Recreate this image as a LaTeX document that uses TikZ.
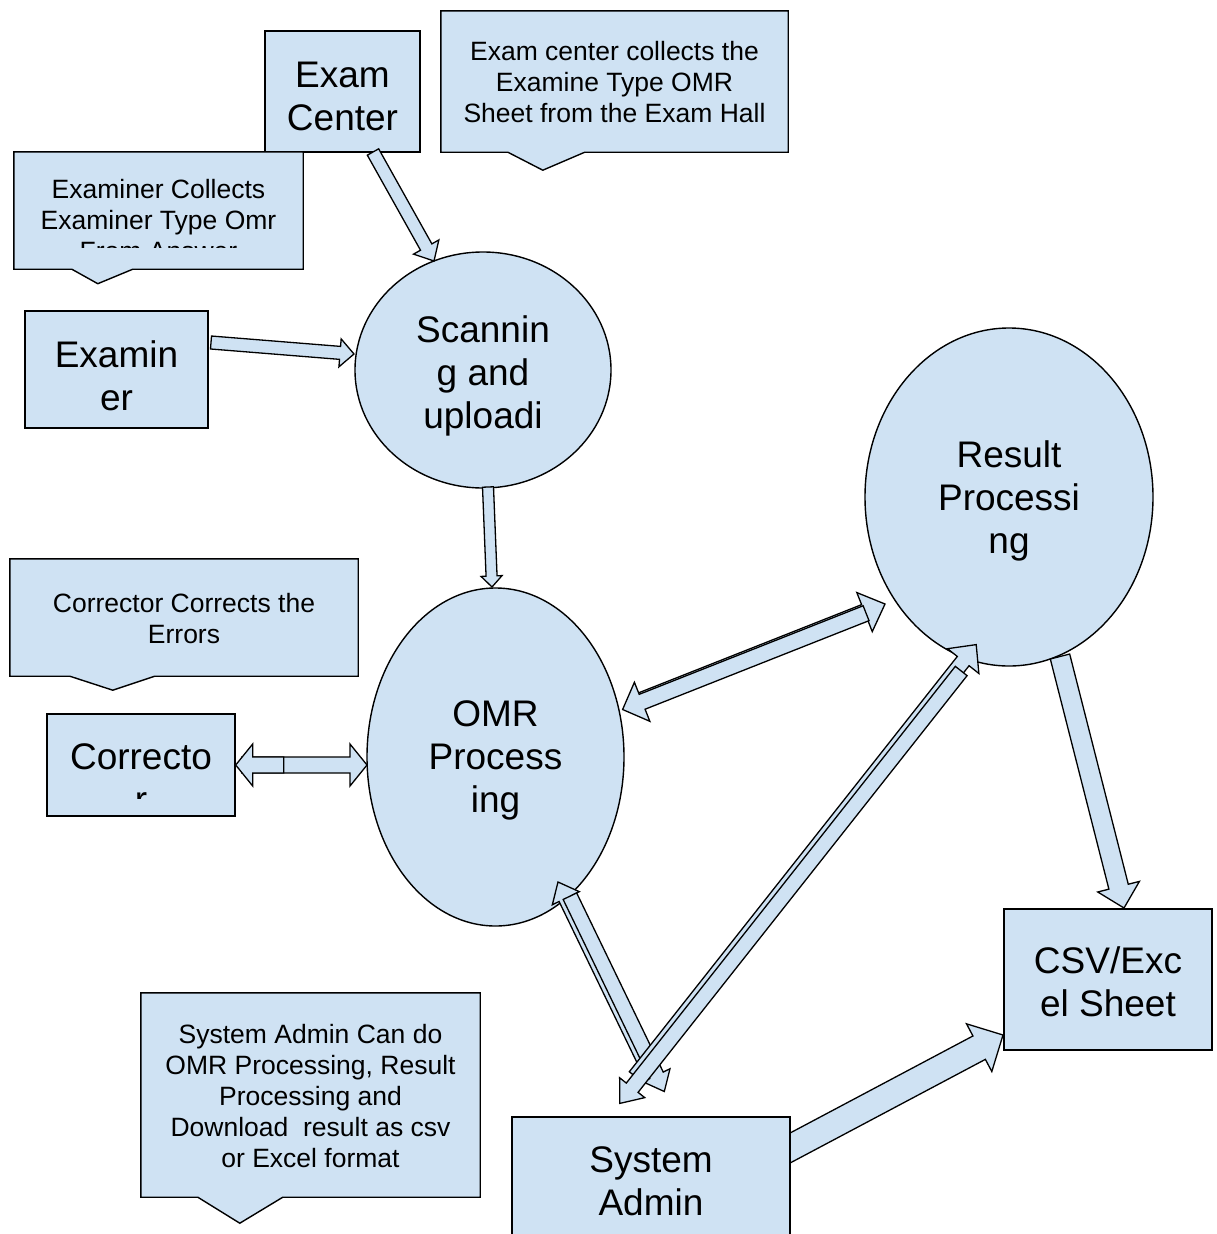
\documentclass[tikz,border=0pt]{standalone}
\usepackage{fontspec}
\setmainfont{Liberation Sans}
\usetikzlibrary{calc,shapes.geometric,backgrounds}
\definecolor{boxfill}{HTML}{CFE2F3}

\tikzset{
  shapebase/.style={draw=black, fill=boxfill, line width=1.4pt, inner sep=0pt},
  boxnode/.style={shapebase, rectangle},
  ellnode/.style={shapebase, ellipse},
  areanode/.style={rectangle, inner sep=0pt},
  calloutshape/.style={draw=black, fill=boxfill, line width=1.4pt, line join=miter},
  arrowbody/.style={draw=black, fill=boxfill, line width=1.3pt, line join=miter},
  bigtxt/.style={anchor=north, align=center, inner sep=0pt, font=\fontsize{37}{43}\selectfont},
  smalltxt/.style={anchor=north, align=center, inner sep=0pt, font=\fontsize{26.5}{31}\selectfont},
}

% block arrow: #2 tail, #3 tip, #4 half shaft width, #5 half head width, #6 head length
\newcommand\blkarrow[6][]{%
  \path ($(#3)!#6!(#2)$) coordinate (ja);
  \draw[arrowbody,#1] ($(#2)!#4!90:(#3)$) -- ($(ja)!#4!90:(#3)$) -- ($(ja)!#5!90:(#3)$) -- (#3)
    -- ($(ja)!#5!-90:(#3)$) -- ($(ja)!#4!-90:(#3)$) -- ($(#2)!#4!-90:(#3)$) -- cycle;
}

\begin{document}
\begin{tikzpicture}[x=1pt,y=-1pt]
\useasboundingbox (0,0) rectangle (1216,1234);

% ---------- callouts ----------
\node[areanode, minimum width=347pt, minimum height=141pt] (c1) at (614.5,81.5) {};
\draw[calloutshape] (c1.north west) -- (c1.north east) -- (c1.south east)
  -- ($(c1.south west)+(144,0)$) -- ($(c1.south west)+(102,18)$) -- ($(c1.south west)+(67,0)$)
  -- (c1.south west) -- cycle;
\node[smalltxt] (c1-t) at (614.5,41.5) {Exam center collects the\\Examine Type OMR\\Sheet from the Exam Hall};

\node[boxnode, minimum width=155pt, minimum height=121pt] (ec) at (342.5,91.5) {};
\node[bigtxt] (ec-t) at (342.5,61.75) {Exam\\Center};

\node[areanode, minimum width=289pt, minimum height=117pt] (c2) at (158.5,210.5) {};
\draw[calloutshape] (c2.north west) -- (c2.north east) -- (c2.south east)
  -- ($(c2.south west)+(119,0)$) -- ($(c2.south west)+(84,14.5)$) -- ($(c2.south west)+(58,0)$)
  -- (c2.south west) -- cycle;
\begin{scope}
  \clip (c2.north west) rectangle ($(c2.north east)+(0,96)$);
  \node[smalltxt] (c2-t) at (158.5,179.5) {Examiner Collects\\Examiner Type Omr\\From Answer};
\end{scope}

\node[areanode, minimum width=348pt, minimum height=117pt] (c3) at (184,617.5) {};
\draw[calloutshape] (c3.north west) -- (c3.north east) -- (c3.south east)
  -- ($(c3.south west)+(145,0)$) -- ($(c3.south west)+(103,14)$) -- ($(c3.south west)+(60,0)$)
  -- (c3.south west) -- cycle;
\node[smalltxt] (c3-t) at (184,593.5) {Corrector Corrects the\\Errors};

\node[areanode, minimum width=339pt, minimum height=204pt] (c4) at (310.5,1095) {};
\draw[calloutshape] (c4.north west) -- (c4.north east) -- (c4.south east)
  -- ($(c4.south west)+(142,0)$) -- ($(c4.south west)+(99,26)$) -- ($(c4.south west)+(57,0)$)
  -- (c4.south west) -- cycle;
\node[smalltxt] (c4-t) at (310.5,1024.5) {System Admin Can do\\OMR Processing, Result\\Processing and\\Download\ \ result as csv\\or Excel format};

% ---------- boxes ----------
\node[boxnode, minimum width=183pt, minimum height=117pt] (exr) at (116.5,369.5) {};
\node[bigtxt] (exr-t) at (116.5,340.75) {Examin\\er};

\node[boxnode, minimum width=188pt, minimum height=102pt] (cor) at (141,765) {};
\begin{scope}
  \clip (cor.north west) rectangle ($(cor.east)+(0,33)$);
  \node[bigtxt] (cor-t) at (141,743.75) {Correcto\\r};
\end{scope}

\node[boxnode, minimum width=208pt, minimum height=141pt] (csv) at (1108,979.5) {};
\node[bigtxt] (csv-t) at (1108,946.75) {CSV/Exc\\el Sheet};

\node[boxnode, minimum width=278pt, minimum height=133pt] (sa) at (651,1183.5) {};
\node[bigtxt] (sa-t) at (651,1146.75) {System\\Admin};

% ---------- process ellipses ----------
\node[ellnode, minimum width=256pt, minimum height=236pt] (scan) at (483,370) {};
\node[bigtxt] (scan-t) at (483,315.75) {Scannin\\g and\\uploadi};

\node[ellnode, minimum width=257pt, minimum height=338pt] (omr) at (495.5,757) {};
\node[bigtxt] (omr-t) at (495.5,700.75) {OMR\\Process\\ing};

\node[ellnode, minimum width=288pt, minimum height=338pt] (res) at (1009,497) {};
\node[bigtxt] (res-t) at (1009,440.75) {Result\\Processi\\ng};

% ---------- connectors ----------
% Exam Center -> Scanning
\coordinate (a1s) at ($(ec.center)+(30.5,60.5)$);
\coordinate (a1e) at ($(scan.center)+(-49,-109)$);
\blkarrow{a1s}{a1e}{6.5pt}{14.5pt}{16pt}

% Examiner -> Scanning
\coordinate (a2s) at ($(exr.center)+(94.5,-27)$);
\coordinate (a2e) at ($(scan.center)+(-129,-16)$);
\blkarrow{a2s}{a2e}{6.5pt}{14pt}{14pt}

% Scanning -> OMR
\coordinate (a3s) at ($(scan.center)+(5,117)$);
\coordinate (a3e) at ($(omr.center)+(-3.5,-170)$);
\blkarrow{a3s}{a3e}{5.5pt}{10.5pt}{11pt}

% Corrector <-> OMR
\coordinate (a4r-s) at ($(cor.east)+(6,0)$);
\coordinate (a4r-e) at ($(omr.center)+(-128.5,8)$);
\blkarrow{a4r-s}{a4r-e}{8pt}{21pt}{17pt}
\coordinate (a4l-s) at ($(cor.east)+(48,0)$);
\blkarrow{a4l-s}{cor.east}{8pt}{21pt}{17pt}

% OMR <-> Result Processing
\coordinate (or-a) at ($(omr.center)+(126.5,-49)$);
\coordinate (or-b) at ($(res.center)+(-124,107)$);
\coordinate (u-s) at ($(or-a)!20pt!(or-b)$);
\blkarrow{u-s}{or-b}{8pt}{21pt}{22pt}
\coordinate (or-a2) at ($(or-a)+(0.6,1.5)$);
\coordinate (or-b2) at ($(or-b)+(0.6,1.5)$);
\coordinate (v-s) at ($(or-b2)!21pt!(or-a2)$);
\blkarrow{v-s}{or-a2}{8pt}{21pt}{21pt}

% OMR <-> System Admin
\coordinate (p-s) at ($(sa.center)+(-0.3,-109.8)$);
\coordinate (p-e) at ($(omr.center)+(62.5,125)$);
\blkarrow{p-s}{p-e}{7.5pt}{15pt}{18pt}
\coordinate (q-s) at ($(omr.center)+(74.4,139.2)$);
\coordinate (q-e) at ($(sa.center)+(13.3,-92)$);
\blkarrow{q-s}{q-e}{7.5pt}{15pt}{18pt}

% Result Processing <-> System Admin
\coordinate (x-s) at ($(sa.center)+(-15.8,-107.1)$);
\coordinate (x-e) at ($(res.center)+(-32.8,147.6)$);
\blkarrow{x-s}{x-e}{7.5pt}{20pt}{21pt}
\coordinate (y-s) at ($(res.center)+(-47.8,174)$);
\coordinate (y-e) at ($(sa.center)+(-31.2,-80.1)$);
\blkarrow{y-s}{y-e}{7.5pt}{16pt}{20pt}

% Result Processing -> CSV/Excel Sheet
\coordinate (a8s) at ($(res.center)+(51,159.5)$);
\coordinate (a8e) at ($(csv.center)+(16,-71.5)$);
\blkarrow{a8s}{a8e}{10pt}{21.5pt}{22pt}

% System Admin -> CSV/Excel Sheet (tail tucked under the box)
\begin{scope}[on background layer]
  \coordinate (a9s) at ($(sa.center)+(124,-27.5)$);
  \coordinate (a9e) at ($(csv.center)+(-105,55.5)$);
  \blkarrow{a9s}{a9e}{13.25pt}{27pt}{27pt}
\end{scope}
\end{tikzpicture}
\end{document}
